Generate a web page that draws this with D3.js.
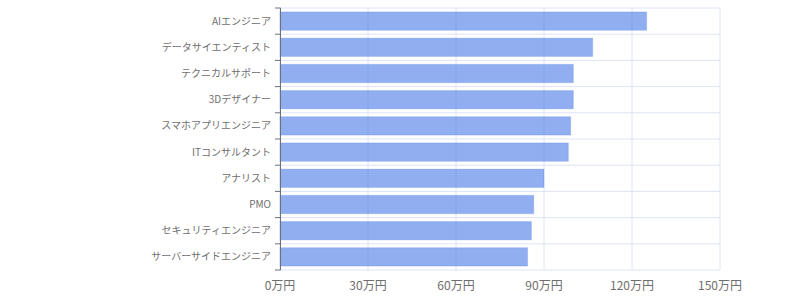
<!DOCTYPE html>
<html>
<head>
<meta charset="utf-8">
<script src="https://cdn.jsdelivr.net/npm/d3@7"></script>
<style>
  body { margin: 0; background: #fff; }
  text { font-family: "Noto Sans CJK JP", "Noto Sans", sans-serif; }
</style>
</head>
<body>
<div id="chart"></div>
<script>

WIDTH = 800;
HEIGHT = 300;

var margin = { top: 8, right: 80, bottom: 30, left: 280 };

// job titles, top to bottom
var jobs = [
    "AIエンジニア", "データサイエンティスト", "テクニカルサポート", "3Dデザイナー",
    "スマホアプリエンジニア", "ITコンサルタント", "アナリスト", "PMO",
    "セキュリティエンジニア", "サーバーサイドエンジニア"
];

// monthly rate, 万円
var rates = [125, 106.6, 100, 100, 99.1, 98.3, 90, 86.5, 85.7, 84.4];

var xTicks = [0, 30, 60, 90, 120, 150];


var svg = d3.select("#chart").append("svg")
    .attr("width", WIDTH)
    .attr("height", HEIGHT);

var w = WIDTH - margin.left - margin.right,
    h = HEIGHT - margin.top - margin.bottom;

var x = d3.scaleLinear().domain([0, 150]).range([0, w]);
var y = d3.scaleBand().domain(jobs).range([0, h]).paddingInner(0.3).paddingOuter(0.15);

var chart = svg.append("g")
    .attr("transform", "translate(" + margin.left + "," + margin.top + ")");

// grid
var step = h / jobs.length;
var grid = chart.append("g").attr("class", "grid");

grid.selectAll("line.v")
    .data(xTicks)
    .enter().append("line")
    .attr("x1", function(d) { return x(d); })
    .attr("x2", function(d) { return x(d); })
    .attr("y1", 0).attr("y2", h)
    .attr("stroke", "#dde4f4")
    .attr("stroke-width", 1);

grid.selectAll("line.h")
    .data(d3.range(jobs.length + 1))
    .enter().append("line")
    .attr("x1", 0).attr("x2", w)
    .attr("y1", function(d) { return d * step; })
    .attr("y2", function(d) { return d * step; })
    .attr("stroke", "#dde4f4")
    .attr("stroke-width", 1);

// bars
chart.append("g")
    .selectAll("rect")
    .data(rates)
    .enter().append("rect")
    .attr("x", 0)
    .attr("y", function(d, i) { return y(jobs[i]); })
    .attr("width", function(d) { return x(d); })
    .attr("height", y.bandwidth())
    .attr("fill", "rgba(86,132,232,0.66)")
    .attr("stroke", "rgba(86,132,232,0.25)")
    .attr("stroke-width", 1);

// y axis (ticks on band boundaries)
var ya = chart.append("g");
ya.append("line")
    .attr("x1", 0.5).attr("x2", 0.5)
    .attr("y1", 0).attr("y2", h)
    .attr("stroke", "#6e7079");
ya.selectAll("line.tick")
    .data(d3.range(jobs.length + 1))
    .enter().append("line")
    .attr("x1", -5).attr("x2", 0.5)
    .attr("y1", function(d) { return d * step; })
    .attr("y2", function(d) { return d * step; })
    .attr("stroke", "#6e7079");
ya.selectAll("text")
    .data(jobs)
    .enter().append("text")
    .attr("x", -9)
    .attr("y", function(d) { return y(d) + y.bandwidth() / 2; })
    .attr("dy", "0.35em")
    .attr("text-anchor", "end")
    .attr("font-size", 10)
    .attr("fill", "#6e6e6e")
    .text(function(d) { return d; });

// x axis labels
chart.append("g")
    .selectAll("text")
    .data(xTicks)
    .enter().append("text")
    .attr("x", function(d) { return x(d); })
    .attr("y", h + 20)
    .attr("text-anchor", "middle")
    .attr("font-size", 12)
    .attr("fill", "#6e6e6e")
    .text(function(d) { return d + "万円"; });

</script>
</body>
</html>
